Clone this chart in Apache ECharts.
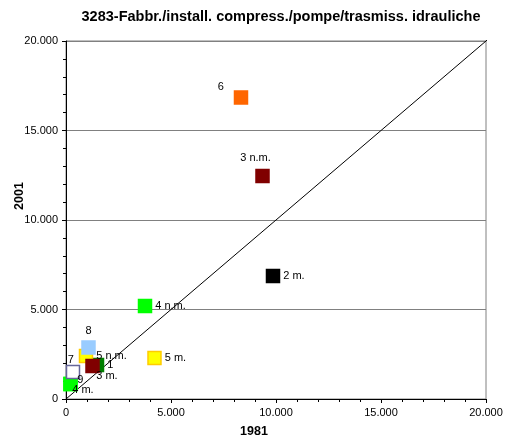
<!DOCTYPE html>
<html><head><meta charset="utf-8">
<script src="https://cdn.jsdelivr.net/npm/echarts@6/dist/echarts.min.js"></script>
<style>html,body{margin:0;padding:0;background:#fff}#c{width:507px;height:439px}</style>
</head><body><div id="c"></div>
<script>
const titleText = "3283-Fabbr./install. compress./pompe/trasmiss. idrauliche";
const xName = "1981";
const yName = "2001";
const names = ["4 m.", "9", "7", "1", "5 n.m.", "3 m.", "8", "5 m.", "4 n.m.", "2 m.", "3 n.m.", "6"];
const x1981 = [214, 214, 333, 1476, 952, 1262, 1071, 4214, 3762, 9857, 9357, 8333];
const y2001 = [838, 838, 1508, 1900, 2402, 1844, 2877, 2290, 5196, 6870, 12458, 16844];
const fills = ["#00FF00", "#00FF00", "#FFFFFF", "#008000", "#FFFF00", "#800000", "#99CCFF", "#FFFF00", "#00FF00", "#000000", "#800000", "#FF6600"];
const borders = ["#00FF00", "#00FF00", "#666699", "#008000", "#FFCC00", "#800000", "#99CCFF", "#FFCC00", "#00FF00", "#000000", "#800000", "#FF6600"];
const labelPos = ["p4m", "p9", "p7", "right", "right", "p3m", "top", "right", "right", "right", "p3nm", "p6"];
const diag = [[0, 0], [20500, 20500]];

const posMap = {
  right: {position: 'right', distance: 3},
  top: {position: 'top', distance: 4},
  p7: {position: [2, -10]},
  p6: {position: [-16, -9]},
  p3nm: {position: [-15, -16]},
  p3m: {position: [11, 12]},
  p4m: {position: [9, 8]},
  p9: {position: [14, -2]}
};
const pts = names.map((n, i) => ({
  value: [x1981[i], y2001[i]],
  name: n,
  itemStyle: {color: fills[i], borderColor: borders[i], borderWidth: 1.5, opacity: 1},
  label: Object.assign({show: true, formatter: n, color: '#000', fontSize: 11, fontFamily: 'Liberation Sans, Arial'}, posMap[labelPos[i]])
}));
const fmt = v => v === 0 ? '0' : v.toLocaleString('de-DE');
const nameFont = 'bold 12.5px "Liberation Sans", Arial';
const chart = echarts.init(document.getElementById('c'));
chart.setOption({
  animation: false,
  title: {text: titleText, left: 276, top: 4, textAlign: 'center',
    textStyle: {fontSize: 14.5, fontWeight: 'bold', color: '#000', fontFamily: 'Liberation Sans, Arial'}},
  grid: {left: 66, right: 21, top: 41, bottom: 40, show: true, borderColor: '#808080', borderWidth: 1,
    containLabel: false, outerBoundsMode: 'none'},
  graphic: [
    {type: 'text', x: 254, y: 432, style: {text: xName, font: nameFont, fill: '#000', align: 'center', verticalAlign: 'middle'}},
    {type: 'text', x: 20, y: 196, rotation: Math.PI / 2, style: {text: yName, font: nameFont, fill: '#000', align: 'center', verticalAlign: 'middle'}}
  ],
  xAxis: {type: 'value', min: 0, max: 20000, interval: 5000,
    axisLine: {lineStyle: {color: '#000'}}, axisTick: {show: true, length: 4, lineStyle: {color: '#000'}},
    minorTick: {show: true, splitNumber: 5, length: 3, lineStyle: {color: '#000'}},
    splitLine: {show: false},
    axisLabel: {formatter: fmt, fontSize: 11, color: '#000', fontFamily: 'Liberation Sans, Arial', margin: 8}},
  yAxis: {type: 'value', min: 0, max: 20000, interval: 5000,
    axisLine: {lineStyle: {color: '#000'}}, axisTick: {show: true, length: 4, lineStyle: {color: '#000'}},
    minorTick: {show: true, splitNumber: 5, length: 3, lineStyle: {color: '#000'}},
    splitLine: {show: true, lineStyle: {color: '#808080', width: 1}},
    axisLabel: {formatter: fmt, fontSize: 11, color: '#000', fontFamily: 'Liberation Sans, Arial', margin: 8}},
  series: [
    {type: 'line', data: diag, symbol: 'none', clip: false, silent: true,
      lineStyle: {color: '#000', width: 1}, z: 1},
    {type: 'scatter', data: pts, symbol: 'rect', symbolSize: 13, z: 3}
  ]
});
</script></body></html>
